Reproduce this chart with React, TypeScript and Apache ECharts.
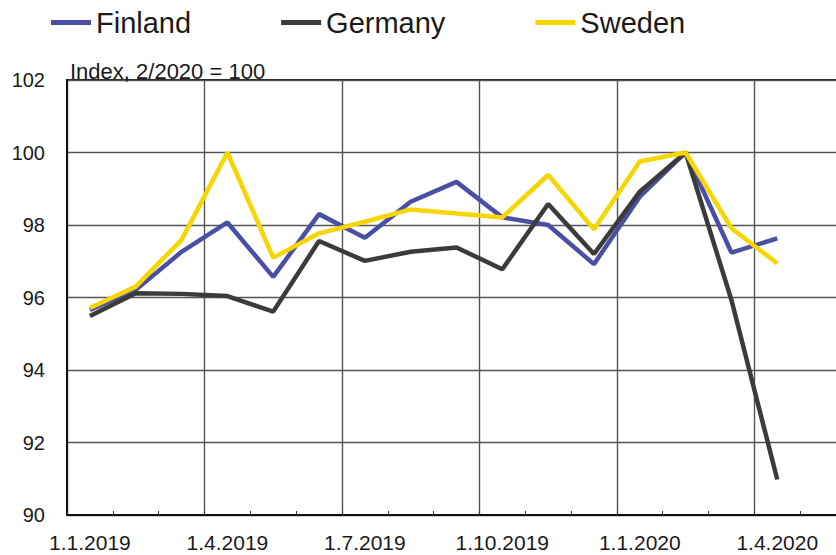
import React, { useEffect, useRef } from "react";
import * as echarts from "echarts";

const months = [
  "1.1.2019", "1.2.2019", "1.3.2019", "1.4.2019", "1.5.2019", "1.6.2019",
  "1.7.2019", "1.8.2019", "1.9.2019", "1.10.2019", "1.11.2019", "1.12.2019",
  "1.1.2020", "1.2.2020", "1.3.2020", "1.4.2020", "1.5.2020",
];

const finland = [95.66, 96.21, 97.26, 98.07, 96.57, 98.3, 97.65, 98.64, 99.19, 98.21, 98.0, 96.92, 98.78, 100, 97.24, 97.63];
const germany = [95.49, 96.12, 96.1, 96.04, 95.61, 97.56, 97.01, 97.26, 97.38, 96.78, 98.58, 97.2, 98.92, 100, 95.93, 90.98];
const sweden = [95.71, 96.3, 97.59, 100, 97.1, 97.77, 98.09, 98.43, 98.32, 98.21, 99.38, 97.88, 99.75, 100, 97.91, 96.94];

const seriesNames = ["Finland", "Germany", "Sweden"];
const seriesColors = ["#4a4fa6", "#3b3b3b", "#f6d500"];
const yTicks = { min: 90, max: 102, step: 2 };
const subtitle = "Index, 2/2020 = 100";

const FONT = "'Liberation Sans', Arial, sans-serif";

export default function App() {
  const ref = useRef<HTMLDivElement>(null);

  useEffect(() => {
    if (!ref.current) return;
    const chart = echarts.init(ref.current, null, { renderer: "svg" });
    const data = [finland, germany, sweden];
    chart.setOption({
      animation: false,
      backgroundColor: "#ffffff",
      textStyle: { fontFamily: FONT },
      legend: {
        left: 51,
        top: 8,
        padding: 0,
        itemGap: 90,
        itemWidth: 40,
        itemHeight: 5,
        icon: "rect",
        textStyle: { fontFamily: FONT, fontSize: 29, color: "#1a1a1a" },
        data: seriesNames,
      },
      grid: {
        left: 67,
        width: 779,
        top: 80,
        bottom: 40,
        containLabel: false,
        outerBoundsMode: "none",
        show: true,
        borderColor: "#222",
        borderWidth: 2,
        backgroundColor: "transparent",
      },
      graphic: [
        {
          type: "text",
          left: 70,
          top: 60,
          style: {
            text: subtitle,
            fontFamily: FONT,
            fontSize: 22,
            fill: "#1a1a1a",
          },
          z: 10,
        },
      ],
      xAxis: {
        type: "category",
        data: months,
        boundaryGap: true,
        axisLine: { show: true, lineStyle: { color: "#111", width: 2 } },
        axisTick: { show: true, inside: true, length: 4, interval: 0, lineStyle: { color: "#333", width: 1 } },
        axisLabel: { interval: 2, fontFamily: FONT, fontSize: 21, color: "#1a1a1a", margin: 17 },
        splitLine: { show: true, interval: 2, lineStyle: { color: "#555", width: 1.4 } },
      },
      yAxis: {
        type: "value",
        min: yTicks.min,
        max: yTicks.max,
        interval: yTicks.step,
        axisLine: { show: true, lineStyle: { color: "#111", width: 2 } },
        axisTick: { show: false },
        axisLabel: { fontFamily: FONT, fontSize: 20, color: "#1a1a1a", margin: 22 },
        splitLine: { show: true, lineStyle: { color: "#555", width: 1.4 } },
      },
      series: seriesNames.map((name, i) => ({
        name,
        type: "line",
        data: data[i],
        symbol: "none",
        lineStyle: { color: seriesColors[i], width: 4.5 },
        itemStyle: { color: seriesColors[i] },
        z: 3 + i,
      })),
    });
    return () => chart.dispose();
  }, []);

  return (
    <div
      ref={ref}
      style={{ position: "fixed", left: 0, top: 0, width: 836, height: 555, background: "#fff", overflow: "hidden" }}
    />
  );
}
